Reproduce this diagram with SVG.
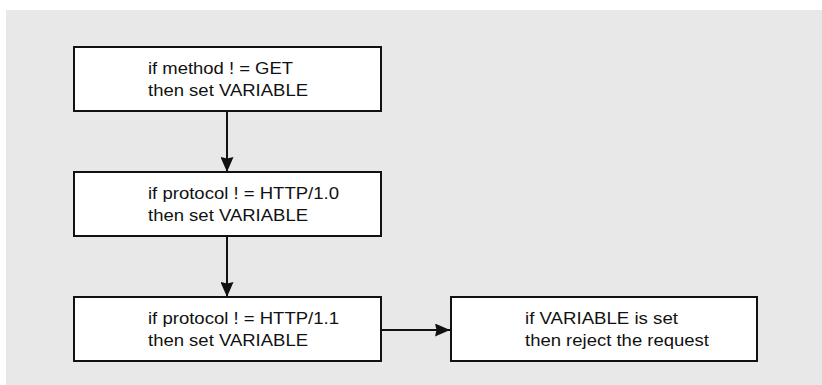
<svg xmlns="http://www.w3.org/2000/svg" width="822" height="385" viewBox="0 0 822 385">
  <style>
    .panel { fill: #e8e8e8; }
    .box { fill: #ffffff; stroke: #111111; stroke-width: 2; }
    .lbl { font-family: "Liberation Sans", Arial, Helvetica, sans-serif; font-size: 16px; fill: #111111; }
    .edge { fill: none; stroke: #111111; stroke-width: 2; }
  </style>
  <defs>
    <marker id="arrow" markerUnits="userSpaceOnUse" markerWidth="15" markerHeight="13" viewBox="0 0 15 13" refX="15" refY="6.5" orient="auto">
      <path d="M0,0 L15,6.5 L0,13 L1.5,6.5 Z" fill="#111111"/>
    </marker>
  </defs>

  <rect class="panel" x="6" y="10" width="816" height="375"/>

  <g id="connectors">
    <line class="edge" x1="227" y1="111" x2="227" y2="172" marker-end="url(#arrow)"/>
    <line class="edge" x1="227" y1="236" x2="227" y2="297" marker-end="url(#arrow)"/>
    <line class="edge" x1="382" y1="330" x2="450" y2="330" marker-end="url(#arrow)"/>
  </g>

  <g id="check-method">
    <rect class="box" x="74" y="47" width="307" height="64"/>
    <text class="lbl" x="148" y="73.5" textLength="145" lengthAdjust="spacingAndGlyphs">if method ! = GET</text>
    <text class="lbl" x="148" y="95.5" textLength="160" lengthAdjust="spacingAndGlyphs">then set VARIABLE</text>
  </g>

  <g id="check-http10">
    <rect class="box" x="74" y="172" width="307" height="64"/>
    <text class="lbl" x="148" y="198.5" textLength="191" lengthAdjust="spacingAndGlyphs">if protocol ! = HTTP/1.0</text>
    <text class="lbl" x="148" y="220.5" textLength="160" lengthAdjust="spacingAndGlyphs">then set VARIABLE</text>
  </g>

  <g id="check-http11">
    <rect class="box" x="74" y="297" width="307" height="64"/>
    <text class="lbl" x="148" y="323.5" textLength="191" lengthAdjust="spacingAndGlyphs">if protocol ! = HTTP/1.1</text>
    <text class="lbl" x="148" y="345.5" textLength="160" lengthAdjust="spacingAndGlyphs">then set VARIABLE</text>
  </g>

  <g id="reject">
    <rect class="box" x="451" y="297" width="306" height="64"/>
    <text class="lbl" x="525" y="323.5" textLength="153" lengthAdjust="spacingAndGlyphs">if VARIABLE is set</text>
    <text class="lbl" x="525" y="345.5" textLength="184" lengthAdjust="spacingAndGlyphs">then reject the request</text>
  </g>
</svg>
